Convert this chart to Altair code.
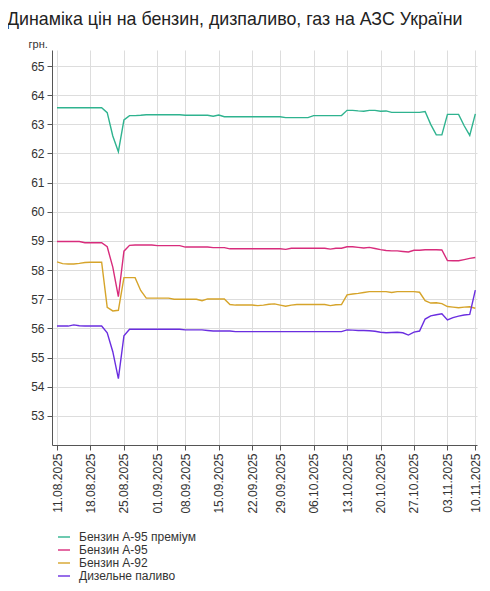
import altair as alt
import pandas as pd

# tick labels (Mondays) and their position in the daily series
tick_idx = [0, 6, 12, 18, 23, 29, 35, 40, 46, 52, 58, 64, 70, 75]
tick_labels = ["11.08.2025", "18.08.2025", "25.08.2025", "01.09.2025", "08.09.2025",
               "15.09.2025", "22.09.2025", "29.09.2025", "06.10.2025", "13.10.2025",
               "20.10.2025", "27.10.2025", "03.11.2025", "10.11.2025"]

series_names = ["Бензин А-95 преміум", "Бензин А-95", "Бензин А-92", "Дизельне паливо"]
series_colors = ["#2fb38f", "#d82c7c", "#d6a42a", "#6a2ee0"]

a95_premium = ([63.57] * 9 + [63.40, 62.60, 62.06, 63.15, 63.30, 63.30, 63.31] + [63.33] * 7
               + [63.31] * 5 + [63.28, 63.32] + [63.26] * 11 + [63.23] * 5 + [63.30] * 6
               + [63.48, 63.48, 63.46, 63.45, 63.48, 63.48, 63.45, 63.46] + [63.41] * 6
               + [63.44, 63.00, 62.64, 62.64, 63.34, 63.34, 63.34, 62.95, 62.62, 63.36])

a95 = ([58.98] * 5 + [58.94] * 4 + [58.80, 58.10, 57.09, 58.65, 58.85] + [58.86] * 4
       + [58.84] * 5 + [58.79] * 5 + [58.77] * 3 + [58.73] * 10 + [58.71] + [58.75] * 7
       + [58.72, 58.75, 58.75]
       + [58.80, 58.80, 58.78, 58.76, 58.78, 58.74, 58.70, 58.67, 58.66, 58.66, 58.64, 58.62,
          58.68, 58.68, 58.70, 58.70, 58.70, 58.69, 58.33, 58.32, 58.32, 58.36, 58.40, 58.43])

a92 = ([58.28, 58.22, 58.21, 58.21, 58.23, 58.26, 58.27, 58.27, 58.27]
       + [56.72, 56.60, 56.62, 57.74, 57.74, 57.74, 57.30, 57.04] + [57.04] * 4 + [57.00] * 5
       + [56.95] + [57.01] * 4 + [56.82] + [56.80] * 4
       + [56.78, 56.80, 56.83, 56.84, 56.80, 56.76, 56.80] + [56.82] * 6
       + [56.78, 56.81, 56.82] + [57.15, 57.18, 57.20, 57.23] + [57.26] * 4 + [57.23]
       + [57.26] * 4
       + [57.24, 56.95, 56.87, 56.88, 56.85, 56.75, 56.73, 56.71, 56.73, 56.74, 56.69])

diesel = ([56.08] * 3 + [56.12, 56.09] + [56.08] * 4 + [55.85, 55.20, 54.28, 55.75, 55.97]
          + [55.97] * 9 + [55.95] * 4 + [55.93] + [55.91] * 4 + [55.89] * 19
          + [55.89, 55.95, 55.94, 55.93, 55.93, 55.92, 55.90, 55.87, 55.85, 55.86, 55.87,
             55.85, 55.77, 55.87, 55.91, 56.32, 56.43, 56.47, 56.50, 56.29, 56.37, 56.42,
             56.46, 56.48, 57.31])

rows = []
for name, vals in zip(series_names, [a95_premium, a95, a92, diesel]):
    for i, v in enumerate(vals):
        rows.append({"i": i, "price": v, "fuel": name})
df = pd.DataFrame(rows)

label_expr = "[{}][indexof([{}], datum.value)]".format(
    ",".join("'%s'" % s for s in tick_labels), ",".join(str(t) for t in tick_idx)
)

chart = (
    alt.Chart(df)
    .mark_line(strokeWidth=1.4)
    .encode(
        x=alt.X(
            "i:Q",
            scale=alt.Scale(domain=[-0.9, 75.3], nice=False, zero=False),
            axis=alt.Axis(values=tick_idx, labelExpr=label_expr, labelAngle=-90,
                          title=None, labelFontSize=12, tickSize=5, labelPadding=3),
        ),
        y=alt.Y(
            "price:Q",
            scale=alt.Scale(domain=[52, 65.55], nice=False, zero=False),
            axis=alt.Axis(values=list(range(53, 66)), title="грн.", titleAngle=0,
                          titleX=-24, titleY=-6, titleAlign="left", titleBaseline="middle",
                          titleFontSize=11, titleFontWeight="normal",
                          labelFontSize=12, tickSize=5, labelPadding=3),
        ),
        color=alt.Color(
            "fuel:N",
            sort=series_names,
            scale=alt.Scale(domain=series_names, range=series_colors),
            legend=alt.Legend(title=None, orient="none", legendX=5, legendY=480,
                              symbolType="stroke", symbolSize=144, symbolStrokeWidth=1.4,
                              labelFontSize=12, rowPadding=0, labelOffset=8),
        ),
    )
    .properties(
        width=425,
        height=395,
        padding={"left": 44, "top": 42, "right": 5, "bottom": 138},
        autosize=alt.AutoSizeParams(type="none"),
        title=alt.TitleParams(
            "Динаміка цін на бензин, дизпаливо, газ на АЗС України",
            anchor="start", frame="group", dx=-45, offset=9,
            fontSize=17.8, fontWeight="normal", color="#222222",
        ),
    )
    .configure(font="Liberation Sans")
    .configure_view(stroke=None)
    .configure_axis(
        domainColor="#555555", tickColor="#555555", labelColor="#333333",
        titleColor="#333333", gridColor="#dddddd", gridWidth=1,
    )
    .configure_legend(labelColor="#333333")
)

chart.save("out.html", embed_options={"renderer": "svg", "actions": False})
